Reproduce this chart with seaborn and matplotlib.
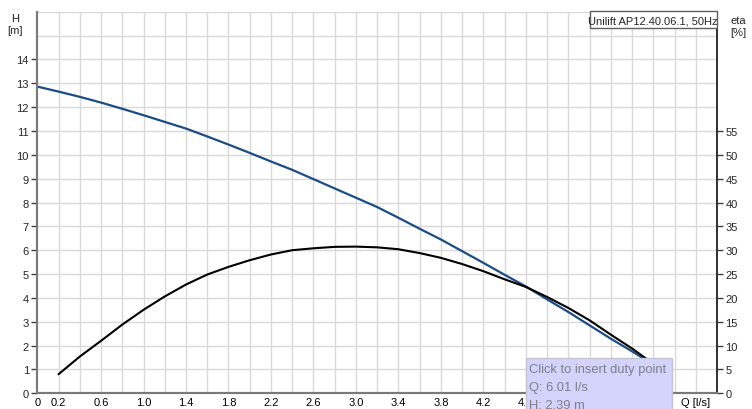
import seaborn as sns
import matplotlib.pyplot as plt
from matplotlib.patches import Rectangle

# Pump curve (the tail is hidden under the tooltip)
q_head = [0.0, 0.2, 0.4, 0.6, 0.8, 1.0, 1.2, 1.4, 1.6, 1.8, 2.0, 2.2, 2.4, 2.6, 2.8, 3.0,
          3.2, 3.4, 3.6, 3.8, 4.0, 4.2, 4.4, 4.6, 4.8, 5.0, 5.2, 5.4, 5.6, 5.8, 5.9]
head = [12.86, 12.65, 12.43, 12.19, 11.93, 11.66, 11.38, 11.10, 10.77, 10.43, 10.08, 9.72,
        9.37, 8.98, 8.59, 8.20, 7.81, 7.36, 6.90, 6.45, 5.96, 5.47, 4.97, 4.48, 3.94, 3.41,
        2.85, 2.29, 1.76, 1.20, 0.92]

q_eta = [0.2, 0.4, 0.6, 0.8, 1.0, 1.2, 1.4, 1.6, 1.8, 2.0, 2.2, 2.4, 2.6, 2.8, 3.0,
         3.2, 3.4, 3.6, 3.8, 4.0, 4.2, 4.4, 4.6, 4.8, 5.0, 5.2, 5.4, 5.6, 5.8, 5.9]
eta = [4.0, 7.7, 11.0, 14.4, 17.5, 20.3, 22.8, 24.9, 26.5, 27.9, 29.1, 30.0, 30.4, 30.7,
       30.75, 30.6, 30.2, 29.4, 28.4, 27.1, 25.6, 23.9, 22.3, 20.2, 17.9, 15.3, 12.3, 9.4,
       6.2, 4.5]

x_labels = ['0', '0.2', '0.6', '1.0', '1.4', '1.8', '2.2', '2.6', '3.0', '3.4', '3.8',
            '4.2', '4.6', '5.0', '5.4', '5.8', 'Q [l/s]']
h_ticks = list(range(0, 15))
eta_ticks = list(range(0, 60, 5))
title = 'Unilift AP12.40.06.1, 50Hz'
tooltip = ['Click to insert duty point', 'Q: 6.01 l/s', 'H: 2.39 m']

W, H = 752, 410
sns.set_style('white')
plt.rcParams['font.family'] = ['Liberation Sans', 'DejaVu Sans']
plt.rcParams['font.size'] = 8


def px(x, y):
    return x / W, 1 - y / H


fig = plt.figure(figsize=(W / 100, H / 100), dpi=100)
left, right, bottom, top = 37.3, 717, 394.3, 12.7
ax = fig.add_axes([left / W, 1 - bottom / H, (right - left) / W, (bottom - top) / H])
ax.set_xlim(0, 6.4)
ax.set_ylim(0, 16)

# grid
for g in [i * 0.2 for i in range(1, 33)]:
    ax.axvline(g, color='#d9d9d9', lw=1, zorder=0)
for g in range(1, 17):
    ax.axhline(g, color='#d9d9d9', lw=1, zorder=0)

sns.lineplot(x=q_head, y=head, ax=ax, color='#1b4c86', linewidth=1.6, zorder=3)

ax2 = ax.twinx()
ax2.set_ylim(0, 80)
sns.lineplot(x=q_eta, y=eta, ax=ax2, color='black', linewidth=1.5, zorder=3)
ax2.set_ylabel('')
ax.set_ylabel('')

# x ticks: unlabeled marks on 0.4 steps, labels in between
label_pos = [0.0] + [0.2 + 0.4 * i for i in range(16)]
ax.set_xticks([0.4 * i for i in range(1, 16)])
ax.set_xticklabels([])
ax.set_xticks(label_pos, minor=True)
ax.set_xticklabels(x_labels, minor=True)
ax.tick_params(axis='x', which='major', length=4, width=1, color='#404040', direction='out')
ax.tick_params(axis='x', which='minor', length=0, pad=3, labelsize=8, labelcolor='black')

ax.set_yticks(h_ticks)
ax.tick_params(axis='y', length=4, width=1, color='#404040', pad=2, labelsize=8)
ax2.set_yticks(eta_ticks)
ax2.tick_params(axis='y', length=4, width=1, color='#404040', pad=2, labelsize=8)

for a in (ax, ax2):
    a.spines['top'].set_visible(False)
    a.spines['left'].set_color('#7a7a7a')
    a.spines['left'].set_linewidth(1.5)
    a.spines['bottom'].set_color('#7a7a7a')
    a.spines['bottom'].set_linewidth(1.5)
    a.spines['right'].set_color('#303030')
    a.spines['right'].set_linewidth(1.2)

fig.text(*px(15, 25), 'H\n[m]', ha='center', va='center', fontsize=8, linespacing=1.25)
fig.text(*px(738, 27), 'eta\n[%]', ha='center', va='center', fontsize=8, linespacing=1.25)

# model label box
fig.add_artist(Rectangle(px(590, 29), (717 - 590) / W, 17 / H, transform=fig.transFigure,
                         facecolor='white', edgecolor='#606060', lw=1, zorder=5))
fig.text(*px(653, 21), title, ha='center', va='center', fontsize=8, zorder=6)

# hover tooltip
fig.add_artist(Rectangle(px(526, 412), (672 - 526) / W, (412 - 359) / H,
                         transform=fig.transFigure, facecolor='#d3d3fb',
                         edgecolor='#c4c4d4', lw=1, zorder=10))
for i, line in enumerate(tooltip):
    fig.text(*px(529, 370 + i * 18), line, ha='left', va='center', fontsize=9.3,
             color='#7f7f8c', zorder=11)

fig.savefig('out.png', dpi=100)
